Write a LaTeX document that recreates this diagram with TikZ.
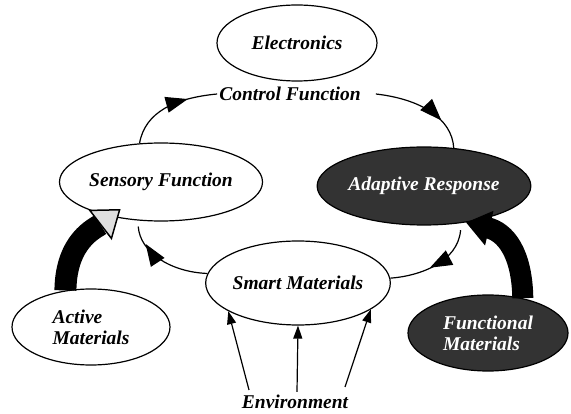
\documentclass[tikz,border=0pt]{standalone}
\usepackage{fontspec}
\setmainfont{Liberation Serif}
\usetikzlibrary{shapes.geometric,arrows.meta,decorations.markings}
\begin{document}
\begin{tikzpicture}[x=1pt,y=-1pt,
  every node/.style={font=\fontsize{19.5}{21}\selectfont\bfseries\itshape},
  bubble/.style={ellipse,draw,line width=1.2pt,inner sep=0pt},
  darkbubble/.style={bubble,fill=black!80,text=white},
  plaintext/.style={inner sep=2pt},
  loopline/.style={line width=1.2pt},
  midarrow/.style={decoration={markings,mark=at position #1 with {\arrow{Triangle[length=22pt,width=16pt]}}},postaction={decorate}},
  envarrow/.style={line width=1.2pt,-{Triangle[length=13pt,width=9pt]}},
  fatleft/.style={line width=22pt,-{Triangle[length=26pt,width=38pt,fill=gray!25,line width=1.5pt]}},
  fatright/.style={line width=21pt,-{Triangle[length=24pt,width=34pt]}}
]
\useasboundingbox (0,0) rectangle (571,414);

\node[bubble,minimum width=160pt,minimum height=76pt] (E) at (297,43) {Electronics};
\node[plaintext] (CF) at (290,94) {Control Function};
\node[bubble,minimum width=196pt,minimum height=78pt] (S) at (161,182) {Sensory Function};
\node[darkbubble,minimum width=200pt,minimum height=78pt] (A) at (424,186) {Adaptive Response};
\node[bubble,minimum width=170pt,minimum height=84pt] (SM) at (298,283) {Smart Materials};
\node[bubble,minimum width=158pt,minimum height=76pt,align=left] (AM) at (91,327) {Active\\Materials};
\node[darkbubble,minimum width=160pt,minimum height=76pt,align=left] (FM) at (488,333) {Functional\\Materials};
\node[plaintext] (Env) at (295,402) {Environment};

% control loop
\draw[loopline,midarrow=0.7] (S.119) .. controls (145,112) and (175,98) .. (CF.west);
\draw[loopline,midarrow=0.7] ([xshift=13pt]CF.east) .. controls (420,99) and (452,118) .. (A.52);
\draw[loopline,midarrow=0.58,shorten <=7pt] (A.315) .. controls (458,262) and (420,276) .. (SM.3);
\draw[loopline,midarrow=0.74,shorten >=6pt] (SM.174) .. controls (170,272) and (140,252) .. (S.239);

% environment
\draw[envarrow] ([xshift=-46pt,yshift=3pt]Env.north) -- (SM.202);
\draw[envarrow] ([xshift=2pt,yshift=1pt]Env.north) -- (SM.south);
\draw[envarrow] ([xshift=50pt,yshift=6pt]Env.north) -- (SM.340);

% fat arrows
\draw[fatleft] (AM.125) .. controls (66,240) and (96,228) .. ([shift={(12,-7)}]S.213);
\draw[fatright] (FM.45) .. controls (522,252) and (505,232) .. (A.319);
\end{tikzpicture}
\end{document}
